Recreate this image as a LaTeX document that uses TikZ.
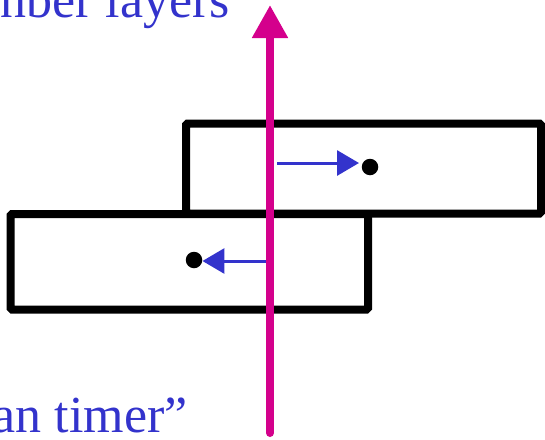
\documentclass[tikz,border=0pt]{standalone}
\usepackage{fontspec}
\setmainfont{Liberation Serif}
\usetikzlibrary{arrows.meta}

\definecolor{labelblue}{RGB}{51,51,204}
\definecolor{axismag}{RGB}{212,0,140}

\begin{document}
\begin{tikzpicture}[x=1pt, y=-1pt,
		layerbox/.style={draw, line width=8pt, rounded corners=1.5pt, inner sep=0pt},
		dot/.style={circle, fill, inner sep=0pt, minimum size=16.5pt},
		driftarrow/.style={draw=labelblue, line width=3pt, -{Triangle[length=22pt,width=25pt]}},
		sidelabel/.style={text=labelblue, font=\fontsize{52}{52}\selectfont, inner sep=0pt}]
		\useasboundingbox (0,0) rectangle (545,439);
		% the two layers
		\node[layerbox, minimum width=355pt, minimum height=90pt] (upper) at (363.5,168.5) {};
		\node[layerbox, minimum width=357.5pt, minimum height=95.5pt] (lower) at (189.25,261.75) {};
		% points inside the layers
		\node[dot] (pu) at (370,167) {};
		\node[dot] (pl) at (194,260) {};
		\coordinate (su) at (277,163);
		\coordinate (sl) at (267,261);
		\path (su) edge[driftarrow, shorten >=11pt] (su -| pu)
		      (sl) edge[driftarrow] (sl -| pl.east);
		% the axis
		\coordinate (abot) at (270,433);
		\coordinate (atop) at (270,5);
		\draw[axismag, line width=8pt, line cap=round, -{Triangle[length=33pt,width=34pt]}] (abot) -- (atop);
		% labels
		\node[sidelabel, anchor=base east] (toplab) at (230,17) {nber layers};
		\node[sidelabel, anchor=base east] (botlab) at (188,432) {an timer”};
	\end{tikzpicture}
\end{document}
